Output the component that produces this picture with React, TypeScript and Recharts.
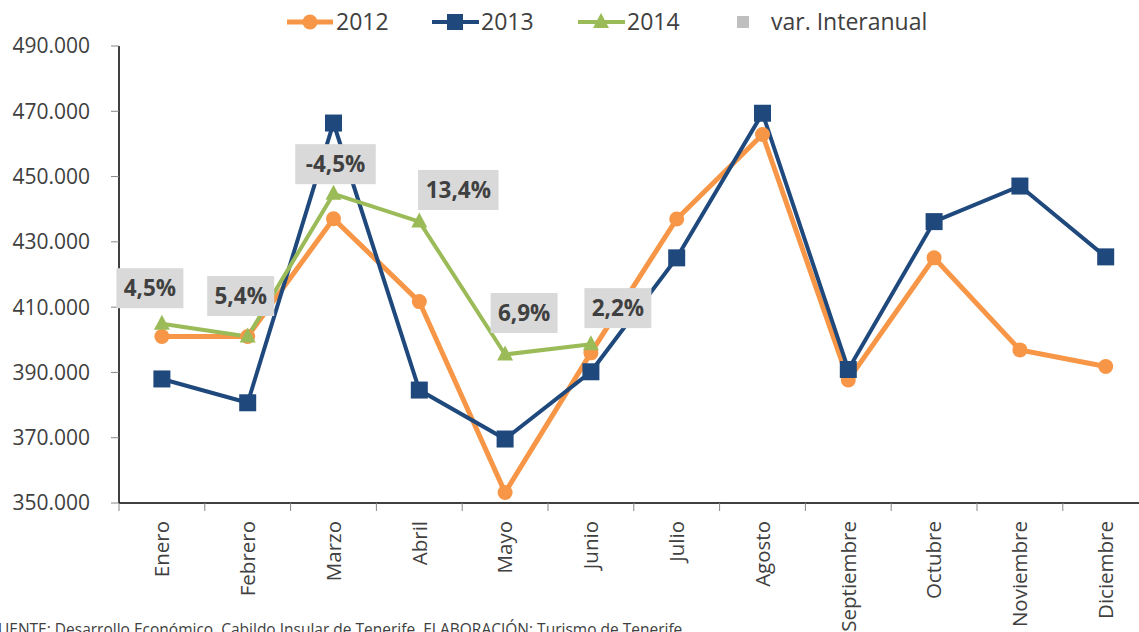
import React from 'react';
import { LineChart, Line, XAxis, YAxis, Legend } from 'recharts';

const months = ['Enero', 'Febrero', 'Marzo', 'Abril', 'Mayo', 'Junio', 'Julio', 'Agosto', 'Septiembre', 'Octubre', 'Noviembre', 'Diciembre'];
const values2012 = [401000, 401000, 437100, 411700, 353200, 396000, 437000, 462900, 387700, 425100, 396900, 391800];
const values2013 = [388000, 380700, 466400, 384600, 369600, 390200, 425100, 469400, 390900, 436200, 447100, 425400];
const values2014: (number | null)[] = [404900, 401000, 444700, 436200, 395500, 398600, null, null, null, null, null, null];
const varLabels: (string | null)[] = ['4,5%', '5,4%', '-4,5%', '13,4%', '6,9%', '2,2%', null, null, null, null, null, null];
const varAnchor: (number | null)[] = [415800, 413400, 453800, 445900, 408200, 409700, null, null, null, null, null, null];
const varLabelDx = [-12, -7, 2, 39, 19, 27];
const yTicks = [350000, 370000, 390000, 410000, 430000, 450000, 470000, 490000];

const ORANGE = '#F79646';
const NAVY = '#1F497D';
const GREEN = '#9BBB59';
const GRAY = '#BFBFBF';
const TEXT = '#404040';
const FONT = '"Open Sans", sans-serif';

const data = months.map((m, i) => ({
  month: m,
  y2012: values2012[i],
  y2013: values2013[i],
  y2014: values2014[i],
  varPos: varAnchor[i],
  varLabel: varLabels[i],
}));

const fmt = (v: number) => v.toLocaleString('de-DE');

const SquareDot = (props: any) => {
  const { cx, cy, index } = props;
  if (cx == null || cy == null) return <g key={index} />;
  return <rect key={index} x={cx - 8.5} y={cy - 8.5} width={17} height={17} fill={NAVY} />;
};

const CircleDot = (props: any) => {
  const { cx, cy, index } = props;
  if (cx == null || cy == null) return <g key={index} />;
  return <circle key={index} cx={cx} cy={cy} r={7.5} fill={ORANGE} />;
};

const TriangleDot = (props: any) => {
  const { cx, cy, index, payload } = props;
  if (cx == null || cy == null || payload.y2014 == null) return <g key={index} />;
  return <path key={index} d={`M${cx},${cy - 9} L${cx + 8},${cy + 6} L${cx - 8},${cy + 6} Z`} fill={GREEN} />;
};

const VarLabel = (props: any) => {
  const { x, y, index } = props;
  const label = varLabels[index];
  if (label == null || x == null || y == null) return null;
  const cx = x + varLabelDx[index];
  const w = label.length * 13.5 + 13;
  return (
    <g>
      <rect x={cx - w / 2} y={y - 20} width={w} height={40} fill="#D9D9D9" />
      <text x={cx} y={y} dy="0.36em" textAnchor="middle" fontFamily={FONT} fontWeight={700} fontSize={22.5} fill={TEXT}>
        {label}
      </text>
    </g>
  );
};

const XTick = (props: any) => {
  const { x, payload } = props;
  const half = payload.offset || 0;
  return (
    <g>
      <line x1={x - half} y1={503} x2={x - half} y2={511} stroke="#868686" strokeWidth={1} />
      <text
        x={x}
        y={521}
        dy="0.36em"
        textAnchor="end"
        transform={`rotate(-90, ${x}, 521)`}
        fontFamily={FONT}
        fontSize={20.5}
        fill={TEXT}
      >
        {payload.value}
      </text>
    </g>
  );
};

const LegendContent = () => (
  <svg width={1139} height={45}>
    <g>
      <line x1={287} y1={22} x2={333} y2={22} stroke={ORANGE} strokeWidth={5} />
      <circle cx={310} cy={22} r={7.5} fill={ORANGE} />
      <text x={336} y={30} fontFamily={FONT} fontSize={23} fill={TEXT}>2012</text>
    </g>
    <g>
      <line x1={432} y1={22} x2={479} y2={22} stroke={NAVY} strokeWidth={4} />
      <rect x={447} y={14} width={16} height={16} fill={NAVY} />
      <text x={481} y={30} fontFamily={FONT} fontSize={23} fill={TEXT}>2013</text>
    </g>
    <g>
      <line x1={578} y1={22} x2={625} y2={22} stroke={GREEN} strokeWidth={4} />
      <path d="M601,13 L609,28 L593,28 Z" fill={GREEN} />
      <text x={627} y={30} fontFamily={FONT} fontSize={23} fill={TEXT}>2014</text>
    </g>
    <g>
      <rect x={737} y={16} width={12} height={12} fill={GRAY} />
      <text x={771} y={30} fontFamily={FONT} fontSize={23} fill={TEXT}>var. Interanual</text>
    </g>
  </svg>
);

export default function App() {
  return (
    <div style={{ position: 'absolute', left: 0, top: 0, width: 1139, height: 632, overflow: 'hidden', background: '#fff' }}>
      <LineChart
        width={1160}
        height={632}
        data={data}
        margin={{ top: 46, right: 11.4, bottom: 0, left: 0 }}
      >
        <XAxis
          dataKey="month"
          scale="band"
          height={129}
          interval={0}
          tickLine={false}
          axisLine={{ stroke: '#000', strokeWidth: 1.5 }}
          tick={<XTick />}
        />
        <YAxis
          width={119}
          domain={[350000, 490000]}
          ticks={yTicks}
          interval={0}
          tickFormatter={fmt}
          tickSize={8}
          tickMargin={21}
          tickLine={{ stroke: '#868686' }}
          axisLine={{ stroke: '#000', strokeWidth: 1.5 }}
          tick={{ fontFamily: FONT, fontSize: 21, fill: TEXT }}
        />
        <Legend
          verticalAlign="middle"
          align="center"
          wrapperStyle={{ top: 0, left: 0, width: 1139, height: 45 }}
          content={<LegendContent />}
        />
        <Line
          dataKey="y2012"
          stroke={ORANGE}
          strokeWidth={5}
          dot={<CircleDot />}
          activeDot={false}
          isAnimationActive={false}
        />
        <Line
          dataKey="y2013"
          stroke={NAVY}
          strokeWidth={4}
          dot={<SquareDot />}
          activeDot={false}
          isAnimationActive={false}
        />
        <Line
          dataKey="y2014"
          stroke={GREEN}
          strokeWidth={4}
          dot={<TriangleDot />}
          activeDot={false}
          isAnimationActive={false}
        />
        <Line
          dataKey="varPos"
          stroke="none"
          dot={false}
          activeDot={false}
          label={<VarLabel />}
          isAnimationActive={false}
        />
      </LineChart>
      <div
        style={{
          position: 'absolute',
          left: -10,
          top: 619,
          fontFamily: FONT,
          fontSize: 15.5,
          lineHeight: '20px',
          color: TEXT,
          whiteSpace: 'nowrap',
        }}
      >
        FUENTE: Desarrollo Económico, Cabildo Insular de Tenerife. ELABORACIÓN: Turismo de Tenerife
      </div>
    </div>
  );
}
